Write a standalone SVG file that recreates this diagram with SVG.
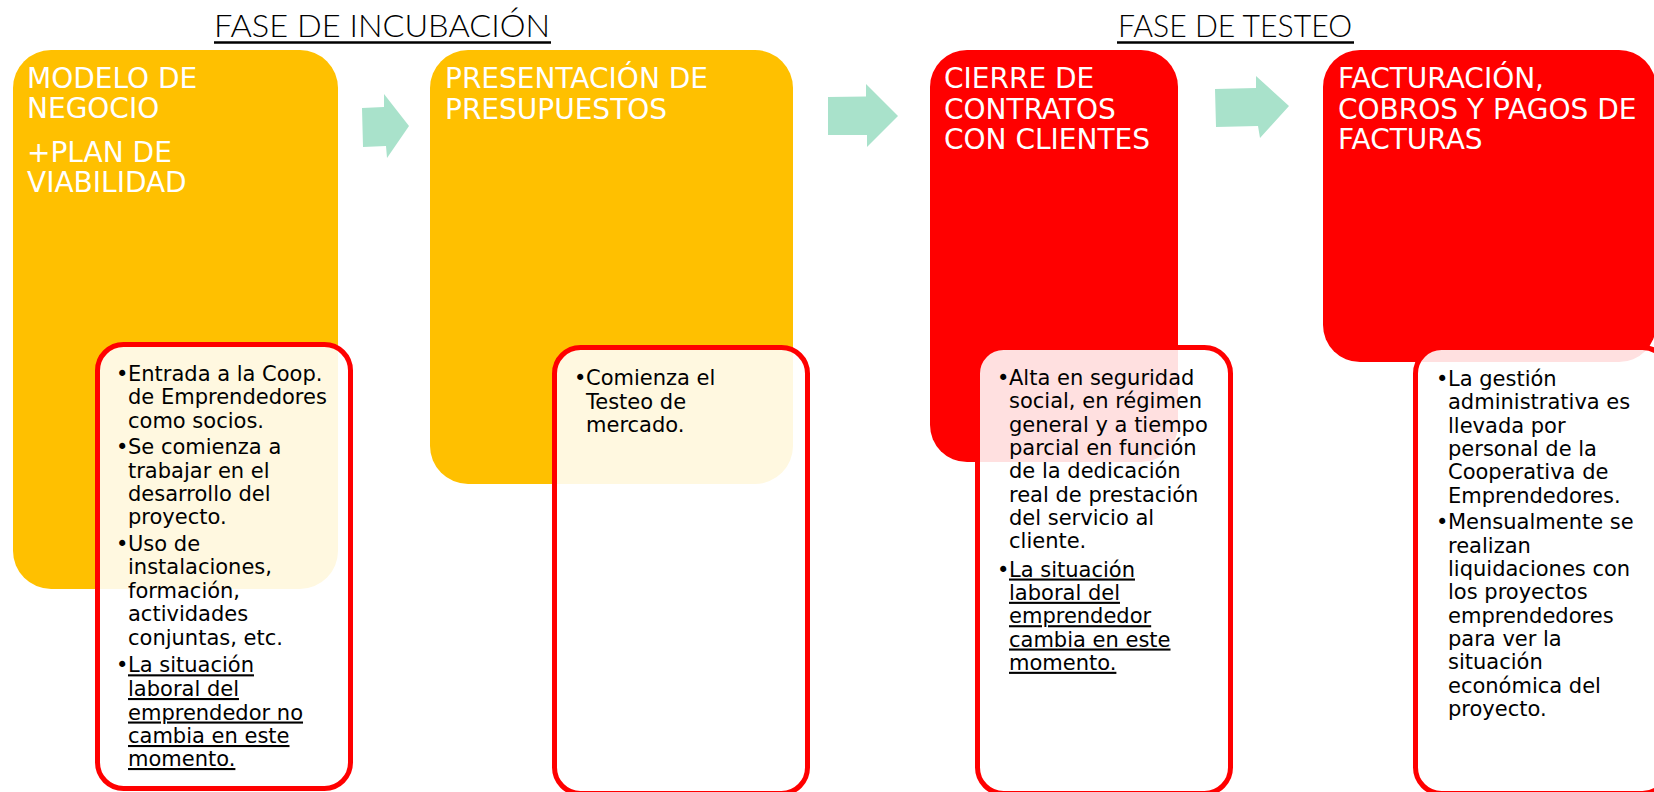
<svg xmlns="http://www.w3.org/2000/svg" width="1654" height="792" viewBox="0 0 1654 792">
<style>
.phase{font-family:"Lato","Liberation Sans",sans-serif;font-weight:300;font-size:31px;fill:#000}
.uline{stroke:#000;stroke-width:2.5}
.orange{fill:#FFC000}
.red{fill:#FF0000}
.head{font-family:"DejaVu Sans","Verdana",sans-serif;font-size:28px;fill:#fff}
.detail{fill:#fff;fill-opacity:0.88;stroke:#FF0000;stroke-width:5}
.body{font-family:"DejaVu Sans","Verdana",sans-serif;font-size:21px;fill:#000}
.u{text-decoration:underline}
.arrow{fill:#A9E2CB}
</style>
<rect width="1654" height="792" fill="#fff"/>
<g id="titles">
<text class="phase" x="214" y="37" textLength="336" lengthAdjust="spacingAndGlyphs">FASE DE INCUBACIÓN</text>
<line class="uline" x1="214" y1="42.5" x2="551" y2="42.5"/>
<text class="phase" x="1118" y="37" textLength="234" lengthAdjust="spacingAndGlyphs">FASE DE TESTEO</text>
<line class="uline" x1="1117" y1="42.5" x2="1354" y2="42.5"/>
</g>
<g id="step1">
<rect class="orange" x="13" y="50" width="325" height="539" rx="38"/>
<text class="head"><tspan x="27" y="88">MODELO DE</tspan><tspan x="27" y="118">NEGOCIO</tspan><tspan x="27" y="162">+PLAN DE</tspan><tspan x="27" y="192">VIABILIDAD</tspan></text>
</g>
<g id="step2">
<rect class="orange" x="430" y="50" width="363" height="434" rx="38"/>
<text class="head"><tspan x="445" y="88">PRESENTACIÓN DE</tspan><tspan x="445" y="119">PRESUPUESTOS</tspan></text>
</g>
<g id="step3">
<rect class="red" x="930" y="50" width="248" height="412" rx="37"/>
<text class="head"><tspan x="944" y="88">CIERRE DE</tspan><tspan x="944" y="119">CONTRATOS</tspan><tspan x="944" y="149">CON CLIENTES</tspan></text>
</g>
<g id="step4">
<rect class="red" x="1323" y="50" width="333" height="312" rx="37"/>
<text class="head"><tspan x="1338" y="88">FACTURACIÓN,</tspan><tspan x="1338" y="119">COBROS Y PAGOS DE</tspan><tspan x="1338" y="149">FACTURAS</tspan></text>
</g>
<g id="connectors">
<polygon class="arrow" points="362,108 384,107 384,94 409,126 387,158 386,146 363,147"/>
<polygon class="arrow" points="828,97 866,96.5 866,84 898,116 867,147 867,135 828,135"/>
<polygon class="arrow" points="1215,89 1256,88 1256,76 1289,106 1260,138 1258,126 1216,127"/>
</g>
<g id="detail1">
<rect class="detail" x="97.5" y="344.5" width="253" height="444" rx="26"/>
<text class="body"><tspan x="116" y="381">•</tspan><tspan x="128" y="381">Entrada a la Coop.</tspan><tspan x="128" y="404.3">de Emprendedores</tspan><tspan x="128" y="427.7">como socios.</tspan><tspan x="116" y="454.3">•</tspan><tspan x="128" y="454.3">Se comienza a</tspan><tspan x="128" y="477.7">trabajar en el</tspan><tspan x="128" y="501">desarrollo del</tspan><tspan x="128" y="524.3">proyecto.</tspan><tspan x="116" y="551">•</tspan><tspan x="128" y="551">Uso de</tspan><tspan x="128" y="574.3">instalaciones,</tspan><tspan x="128" y="597.7">formación,</tspan><tspan x="128" y="621">actividades</tspan><tspan x="128" y="645">conjuntas, etc.</tspan><tspan x="116" y="672.3">•</tspan></text>
<text class="body u"><tspan x="128" y="672.3">La situación</tspan><tspan x="128" y="696">laboral del</tspan><tspan x="128" y="719.5">emprendedor no</tspan><tspan x="128" y="743">cambia en este</tspan><tspan x="128" y="766">momento.</tspan></text>
</g>
<g id="detail2">
<rect class="detail" x="554.5" y="347.5" width="253" height="446" rx="26"/>
<text class="body"><tspan x="574" y="385">•</tspan><tspan x="586" y="385">Comienza el</tspan><tspan x="586" y="408.5">Testeo de</tspan><tspan x="586" y="432">mercado.</tspan></text>
</g>
<g id="detail3">
<rect class="detail" x="977.5" y="347.5" width="253" height="446" rx="26"/>
<text class="body"><tspan x="997" y="385">•</tspan><tspan x="1009" y="385">Alta en seguridad</tspan><tspan x="1009" y="408.3">social, en régimen</tspan><tspan x="1009" y="431.7">general y a tiempo</tspan><tspan x="1009" y="455">parcial en función</tspan><tspan x="1009" y="478.3">de la dedicación</tspan><tspan x="1009" y="501.7">real de prestación</tspan><tspan x="1009" y="525">del servicio al</tspan><tspan x="1009" y="548.3">cliente.</tspan><tspan x="997" y="576.5">•</tspan></text>
<text class="body u"><tspan x="1009" y="576.5">La situación</tspan><tspan x="1009" y="599.8">laboral del</tspan><tspan x="1009" y="623.2">emprendedor</tspan><tspan x="1009" y="646.5">cambia en este</tspan><tspan x="1009" y="669.8">momento.</tspan></text>
</g>
<g id="detail4">
<rect class="detail" x="1415.5" y="347.5" width="253" height="446" rx="26"/>
<text class="body"><tspan x="1436" y="386">•</tspan><tspan x="1448" y="386">La gestión</tspan><tspan x="1448" y="409.3">administrativa es</tspan><tspan x="1448" y="432.7">llevada por</tspan><tspan x="1448" y="456">personal de la</tspan><tspan x="1448" y="479.3">Cooperativa de</tspan><tspan x="1448" y="502.7">Emprendedores.</tspan><tspan x="1436" y="529.3">•</tspan><tspan x="1448" y="529.3">Mensualmente se</tspan><tspan x="1448" y="552.7">realizan</tspan><tspan x="1448" y="576">liquidaciones con</tspan><tspan x="1448" y="599.3">los proyectos</tspan><tspan x="1448" y="622.7">emprendedores</tspan><tspan x="1448" y="646">para ver la</tspan><tspan x="1448" y="669.3">situación</tspan><tspan x="1448" y="692.7">económica del</tspan><tspan x="1448" y="716">proyecto.</tspan></text>
</g>
</svg>
